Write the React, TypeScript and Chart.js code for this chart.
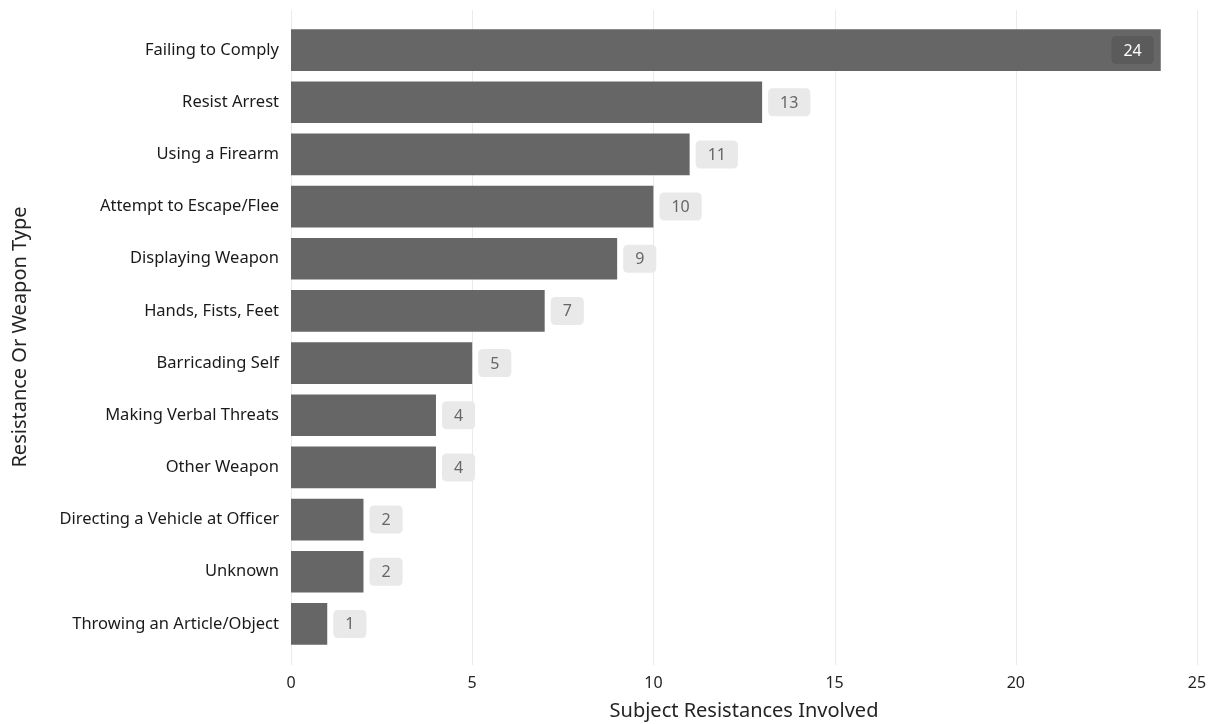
import React, { useEffect, useRef } from "react";
import { Chart, registerables } from "chart.js";

Chart.register(...registerables);

const categories = [
  "Failing to Comply",
  "Resist Arrest",
  "Using a Firearm",
  "Attempt to Escape/Flee",
  "Displaying Weapon",
  "Hands, Fists, Feet",
  "Barricading Self",
  "Making Verbal Threats",
  "Other Weapon",
  "Directing a Vehicle at Officer",
  "Unknown",
  "Throwing an Article/Object",
];
const counts = [24, 13, 11, 10, 9, 7, 5, 4, 4, 2, 2, 1];
const xTicks = [0, 5, 10, 15, 20, 25];

const FONT = "'Noto Sans', 'Open Sans', sans-serif";

const gridPlugin = {
  id: "customGrid",
  beforeDatasetsDraw(chart: any) {
    const { ctx, chartArea, scales } = chart;
    const x = scales.x;
    ctx.save();
    ctx.strokeStyle = "#ebebeb";
    ctx.lineWidth = 1;
    for (const t of xTicks) {
      const px = Math.round(x.getPixelForValue(t)) + 0.5;
      ctx.beginPath();
      ctx.moveTo(px, chartArea.top - 14);
      ctx.lineTo(px, chartArea.bottom + 15);
      ctx.stroke();
    }
    ctx.restore();
  },
};

function roundRect(ctx: CanvasRenderingContext2D, x: number, y: number, w: number, h: number, r: number) {
  ctx.beginPath();
  ctx.moveTo(x + r, y);
  ctx.lineTo(x + w - r, y);
  ctx.quadraticCurveTo(x + w, y, x + w, y + r);
  ctx.lineTo(x + w, y + h - r);
  ctx.quadraticCurveTo(x + w, y + h, x + w - r, y + h);
  ctx.lineTo(x + r, y + h);
  ctx.quadraticCurveTo(x, y + h, x, y + h - r);
  ctx.lineTo(x, y + r);
  ctx.quadraticCurveTo(x, y, x + r, y);
  ctx.closePath();
}

const labelPlugin = {
  id: "valueLabels",
  afterDatasetsDraw(chart: any) {
    const { ctx } = chart;
    const meta = chart.getDatasetMeta(0);
    const data = chart.data.datasets[0].data as number[];
    const maxV = Math.max(...data);
    ctx.save();
    ctx.font = `16px ${FONT}`;
    ctx.textBaseline = "middle";
    ctx.textAlign = "center";
    meta.data.forEach((bar: any, i: number) => {
      const v = data[i];
      const text = String(v);
      const tw = ctx.measureText(text).width;
      const w = tw + 24;
      const h = 28;
      const inside = v === maxV;
      const bx = inside ? bar.x - 7 - w : bar.x + 6;
      const by = bar.y - h / 2;
      roundRect(ctx, bx, by, w, h, 5);
      ctx.fillStyle = inside ? "#5b5b5b" : "#e9e9e9";
      ctx.fill();
      ctx.fillStyle = inside ? "#ffffff" : "#666666";
      ctx.fillText(text, bx + w / 2, bar.y + 1);
    });
    ctx.restore();
  },
};

export default function App() {
  const ref = useRef<HTMLCanvasElement>(null);
  useEffect(() => {
    if (!ref.current) return;
    const chart = new Chart(ref.current, {
      type: "bar",
      data: {
        labels: categories,
        datasets: [
          {
            data: counts,
            backgroundColor: "#666666",
            barPercentage: 0.8,
            categoryPercentage: 1,
          },
        ],
      },
      options: {
        indexAxis: "y",
        animation: false,
        responsive: true,
        maintainAspectRatio: false,
        layout: { padding: { top: 24, right: 18, left: 0, bottom: 0 } },
        plugins: {
          legend: { display: false },
          tooltip: { enabled: false },
        },
        scales: {
          x: {
            min: 0,
            max: 25,
            afterFit: (s: any) => {
              s.height = 74;
              s.paddingLeft = 0;
              s.paddingRight = 0;
            },
            afterBuildTicks: (s: any) => {
              s.ticks = xTicks.map((v) => ({ value: v }));
            },
            grid: { display: false, drawTicks: false },
            border: { display: false },
            ticks: {
              padding: 24,
              color: "#252423",
              font: { family: FONT, size: 16 },
            },
            title: {
              display: true,
              text: "Subject Resistances Involved",
              color: "#252423",
              font: { family: FONT, size: 20 },
              padding: { top: 0, bottom: 1 },
            },
          },
          y: {
            afterFit: (s: any) => {
              s.width = 291;
              s.paddingTop = 0;
              s.paddingBottom = 0;
            },
            grid: { display: false, drawTicks: false },
            border: { display: false },
            ticks: {
              padding: 12,
              color: "#1a1a1a",
              font: { family: FONT, size: 16.5 },
            },
            title: {
              display: true,
              text: "Resistance Or Weapon Type",
              color: "#252423",
              font: { family: FONT, size: 20 },
              padding: { top: 8, bottom: 0 },
            },
          },
        },
      },
      plugins: [gridPlugin, labelPlugin],
    });
    return () => chart.destroy();
  }, []);
  return (
    <div style={{ position: "absolute", left: 0, top: 0, width: 1215, height: 724, background: "#fff" }}>
      <canvas ref={ref} />
    </div>
  );
}
